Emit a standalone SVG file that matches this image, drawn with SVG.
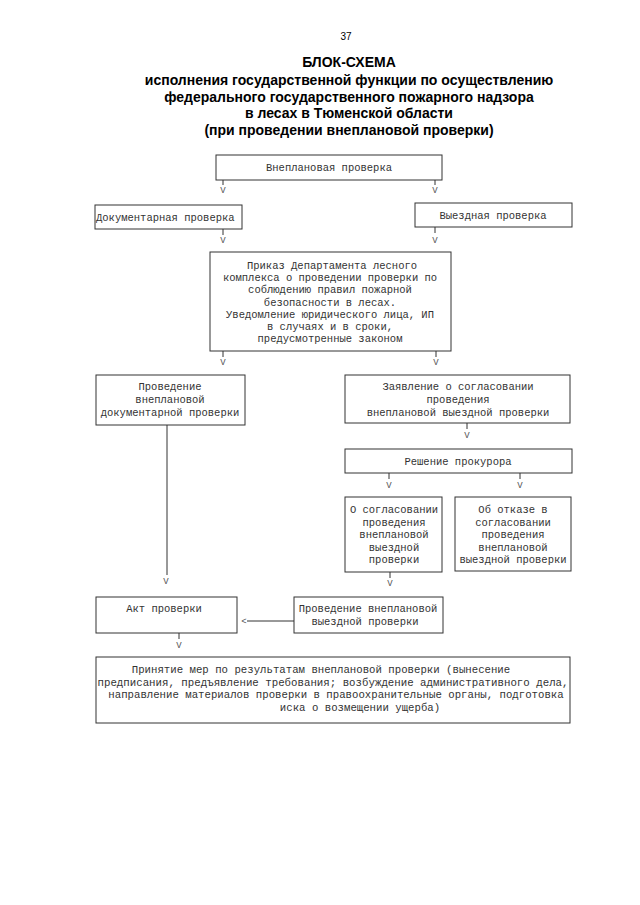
<svg xmlns="http://www.w3.org/2000/svg" width="640" height="905" viewBox="0 0 640 905">
<style>
.bg{fill:#fff}
.title{font-family:"Liberation Sans",Arial,sans-serif;font-weight:bold;font-size:14px;fill:#000;text-anchor:middle}
.pg{font-family:"Liberation Sans",Arial,sans-serif;font-size:10px;fill:#000;text-anchor:middle}
.box{fill:none;stroke:#333;stroke-width:1}
.t{font-family:"Liberation Mono","Courier New",monospace;font-size:10.5px;fill:#333;text-anchor:middle}
.tb{font-family:"Liberation Mono","Courier New",monospace;font-size:10.7px;fill:#333;text-anchor:middle}
.tl{font-family:"Liberation Mono","Courier New",monospace;font-size:10.5px;fill:#333}
.ln{stroke:#333;stroke-width:1;fill:none}
.v{font-family:"Liberation Mono","Courier New",monospace;font-size:9px;fill:#555;text-anchor:middle}
</style>
<rect class="bg" x="0" y="0" width="640" height="905"/>
<text class="pg" x="346" y="40">37</text>
<g id="title">
<text class="title" x="349" y="67">БЛОК-СХЕМА</text>
<text class="title" x="349" y="85">исполнения государственной функции по осуществлению</text>
<text class="title" x="349" y="102">федерального государственного пожарного надзора</text>
<text class="title" x="349" y="118">в лесах в Тюменской области</text>
<text class="title" x="349" y="135">(при проведении внеплановой проверки)</text>
</g>

<g id="n1">
<rect class="box" x="216" y="155" width="226" height="25"/>
<text class="t" x="329" y="171">Внеплановая проверка</text>
</g>
<g id="n2">
<rect class="box" x="95" y="205" width="147" height="24"/>
<text class="tl" x="96" y="221">Документарная проверка</text>
</g>
<g id="n3">
<rect class="box" x="415" y="203" width="157" height="24"/>
<text class="t" x="493" y="219">Выездная проверка</text>
</g>
<g id="n4">
<rect class="box" x="210" y="252" width="241" height="99"/>
<text class="t" x="332" y="269">Приказ Департамента лесного</text>
<text class="t" x="330" y="281">комплекса о проведении проверки по</text>
<text class="t" x="330" y="293">соблюдению правил пожарной</text>
<text class="t" x="330" y="306">безопасности в лесах.</text>
<text class="t" x="330" y="318">Уведомление юридического лица, ИП</text>
<text class="t" x="330" y="330">в случаях и в сроки,</text>
<text class="t" x="330" y="342">предусмотренные законом</text>
</g>
<g id="n5">
<rect class="box" x="96" y="375" width="149" height="50"/>
<text class="t" x="170" y="390">Проведение</text>
<text class="t" x="170" y="403">внеплановой</text>
<text class="t" x="170" y="416">документарной проверки</text>
</g>
<g id="n6">
<rect class="box" x="345" y="375" width="225" height="48"/>
<text class="t" x="458" y="390">Заявление о согласовании</text>
<text class="t" x="458" y="403">проведения</text>
<text class="t" x="458" y="416">внеплановой выездной проверки</text>
</g>
<g id="n7">
<rect class="box" x="345" y="449" width="227" height="24"/>
<text class="t" x="458" y="465">Решение прокурора</text>
</g>
<g id="n8">
<rect class="box" x="345" y="497" width="97" height="75"/>
<text class="t" x="394" y="513">О согласовании</text>
<text class="t" x="394" y="526">проведения</text>
<text class="t" x="394" y="538">внеплановой</text>
<text class="t" x="394" y="551">выездной</text>
<text class="t" x="394" y="563">проверки</text>
</g>
<g id="n9">
<rect class="box" x="455" y="497" width="116" height="74"/>
<text class="t" x="513" y="513">Об отказе в</text>
<text class="t" x="513" y="526">согласовании</text>
<text class="t" x="513" y="538">проведения</text>
<text class="t" x="513" y="551">внеплановой</text>
<text class="t" x="513" y="563">выездной проверки</text>
</g>
<g id="n10">
<rect class="box" x="96" y="597" width="141" height="36"/>
<text class="t" x="164" y="612">Акт проверки</text>
</g>
<g id="n11">
<rect class="box" x="294" y="597" width="149" height="36"/>
<text class="t" x="368" y="612">Проведение внеплановой</text>
<text class="t" x="365" y="625">выездной проверки</text>
</g>
<g id="n12">
<rect class="box" x="96" y="657" width="474" height="66"/>
<text class="tb" x="321" y="673">Принятие мер по результатам внеплановой проверки (вынесение</text>
<text class="tb" x="333" y="686" textLength="471" lengthAdjust="spacingAndGlyphs">предписания, предъявление требования; возбуждение административного дела,</text>
<text class="tb" x="336" y="698">направление материалов проверки в правоохранительные органы, подготовка</text>
<text class="tb" x="360" y="711">иска о возмещении ущерба)</text>
</g>

<g id="connectors">
<path class="ln" d="M223 180V185 M435 180V185 M223 229V235 M435 227V233 M223 351V357 M436 351V357 M467 423V429 M389 473V479 M520 473V479 M390 572V578 M179 633V639 M167 425V575 M247 621H294"/>
<text class="v" x="223" y="193">V</text>
<text class="v" x="435" y="193">V</text>
<text class="v" x="223" y="243">V</text>
<text class="v" x="435" y="243">V</text>
<text class="v" x="223" y="365">V</text>
<text class="v" x="436" y="365">V</text>
<text class="v" x="467" y="438">V</text>
<text class="v" x="389" y="488">V</text>
<text class="v" x="520" y="488">V</text>
<text class="v" x="390" y="586">V</text>
<text class="v" x="166" y="584">V</text>
<text class="v" x="179" y="648">V</text>
<text class="v" x="244" y="624">&lt;</text>
</g>
</svg>
